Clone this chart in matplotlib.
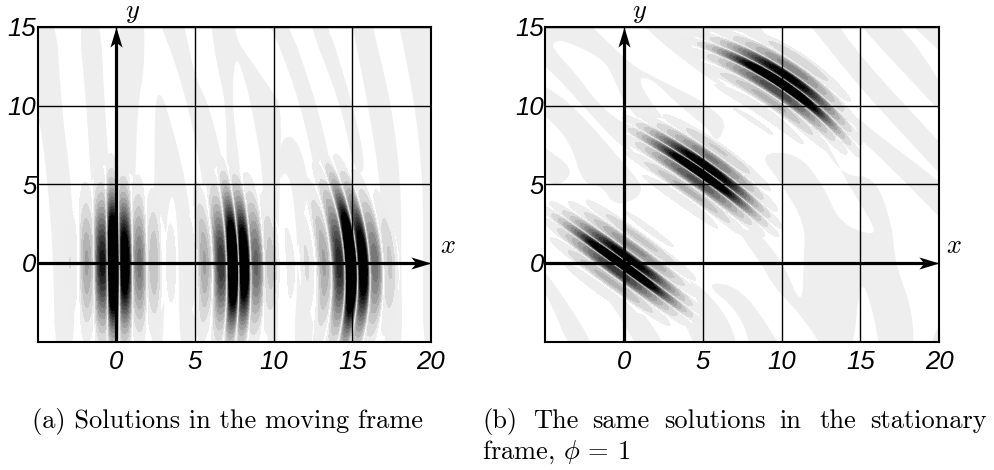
from __future__ import annotations

import matplotlib
matplotlib.use("Agg")
import matplotlib.pyplot as plt
import numpy as np
from matplotlib.colors import ListedColormap

WIDTH, HEIGHT = 995, 470
X_TICKS = [0, 5, 10, 15, 20]
Y_TICKS = [0, 5, 10, 15]
STRIPE_GRAY = "#eeeeee"

# bright lobes of each beam, read across the x axis of the moving frame
beam1_x = [-2.93, -1.9, -0.97, -0.2, 0.57, 1.48, 2.4, 3.48]
beam1_peak = [0.13, 0.38, 0.9, 2.0, 1.3, 0.55, 0.28, 0.08]
beam2_x = [4.6, 5.6, 6.6, 7.4, 8.14, 8.94, 9.83]
beam2_peak = [0.12, 0.38, 0.8, 1.7, 1.4, 0.6, 0.25]
beam3_x = [11.06, 12.1, 13.18, 14.1, 14.9, 15.7, 16.5, 17.4]
beam3_peak = [0.07, 0.14, 0.38, 0.85, 2.0, 1.3, 0.55, 0.22]
beam_centre = [0.0, 7.4, 14.9]
beam_bend = [0.002, 0.014, 0.028]
beam_tilt = [0.01, 0.03, 0.06]
beam_reach = [3.6, 3.6, 3.8]

# same beams in the stationary frame
right_centre_x = [0.0, 4.9, 10.0]
right_centre_y = [0.0, 5.7, 11.4]
right_along = (-0.804, 0.595)
right_across = (0.595, 0.804)
along_scale = 1.05
across_scale = 1.3
right_gain = 0.85

# background bands, (x, y) outlines
left_a = [(-6, 16), (-3.85, 16), (-3.5, 10), (-2.86, 5), (-2.65, 0), (-2.7, -6), (-3.9, -6), (-4.0, 0), (-4.34, 5), (-5, 10), (-6, 12)]
left_b = [(-2.45, 16), (-1.05, 16), (-0.74, 10), (-0.4, 5), (-0.5, 3.5), (-1.4, 3.5), (-1.6, 5), (-1.9, 10)]
left_c = [(0.0, 16), (1.75, 16), (1.8, 12.5), (1.35, 10), (1.2, 5), (1.0, 3.5), (0.2, 3.5), (0, 5)]
left_d = [(2.71, 10.9), (3.18, 10), (4.5, 5), (5.0, 0), (5.0, -6), (4.0, -6), (3.96, 2), (3.54, 4.9), (3.1, 2), (3.0, -6), (2.16, -6), (2.16, 2), (2.44, 5), (2.44, 10)]
left_e = [(2.6, 16), (4.1, 16), (4.34, 15), (5, 11.8), (5.9, 10), (7.0, 5.5), (6.5, 3.5), (5.7, 3.5), (5.5, 5), (4.87, 8.7), (3.8, 12.6), (2.86, 15)]
left_f = [(5.93, 16), (7.5, 16), (7.6, 14.2), (8.6, 12.8), (9.9, 10.9), (10.5, 10), (10.4, 5), (10.25, 0), (10.3, -6), (9.5, -6), (9.45, 5), (8.6, 10), (7.9, 12.6), (7.5, 13), (7.35, 10), (8.0, 5), (7.8, 3.5), (7.0, 5.5), (7.0, 10), (6.3, 13)]
left_g = [(9.2, 16), (10.7, 16), (12.8, 10), (13.9, 5), (14, 3.5), (13, 3.5), (12.8, 5), (11.74, 10), (10.1, 14.5)]
left_g2 = [(10.4, 8), (11.5, 8), (12.3, 5), (12.6, 0), (12.5, -6), (11.2, -6), (11.6, 0), (11.2, 5), (10.65, 5.9), (10.4, 5)]
left_h = [(11.95, 16), (13.2, 16), (15.05, 10), (15.9, 6), (15.2, 5.5), (14.3, 10)]
left_i = [(14.8, 16), (16.1, 16), (16.3, 15), (17.5, 10), (18.1, 5), (18.1, 0), (18.2, -6), (17, -6), (17, 0), (16.8, 5), (16, 10), (15.03, 15)]
left_j = [(17.8, 16), (19.7, 16), (19.9, 15), (21, 14), (21, -6), (19.5, -6), (19.5, 0), (19.5, 5), (19, 10), (18, 15)]
left_bands = [left_a, left_b, left_c, left_d, left_e, left_f, left_g, left_g2, left_h, left_i, left_j]

right_a = [(-6, 16), (-3, 16), (-2, 15), (-0.06, 13.1), (0.8, 12.4), (2.5, 11.5), (5, 10.3), (7, 8.5), (3, 5.5), (-0.06, 7.2), (-2.6, 10), (-5, 12.6), (-6, 13)]
right_b = [(0.4, 16), (9, 16), (9, 12), (6.5, 11), (5, 12), (3, 13.5), (1.3, 15)]
right_c = [(-6, 12), (-5, 11.2), (-3.2, 10), (-0.06, 6.4), (1.5, 4.5), (-0.5, 3.5), (-1.5, 5), (-2.6, 5), (-3.4, 7.7), (-5, 9.4), (-6, 10.2)]
right_d = [(-6, 8.2), (-5, 7.3), (-3.2, 6), (-3.9, 5), (-4.7, 5), (-6, 6.4)]
right_e = [(-6, 0.2), (-5, -0.45), (-2, -5), (-2, -6), (-3.2, -6), (-5, -1.7), (-6, -0.8)]
right_f = [(-2, -1), (-1, -1.2), (1.6, -3.5), (2.9, -6), (1.2, -6), (-0.5, -3)]
right_g = [(3, -0.6), (5, -1.5), (6.8, -3.8), (7.3, -6), (4.8, -6), (3.5, -3)]
right_g2 = [(5, -1.2), (7.4, -1.5), (9.8, -5), (10, -6), (8.2, -6), (7.4, -3.2)]
right_h = [(11, 16), (13, 16), (15, 13.1), (20, 7.7), (21, 6.6), (21, 4.6), (20, 5.7), (15, 11.1), (11.9, 15)]
right_i = [(14.5, 16), (17, 16), (21, 10.2), (21, 8.6), (20, 9.7), (15.03, 15)]
right_j = [(17.4, 16), (21, 16), (21, 12.5), (20, 13.5), (18.4, 15)]
right_k = [(12, 11.7), (15, 9), (20, 5.2), (21, 4.2), (21, 2), (20, 2.9), (18, 5), (15, 7.9), (12, 10.5)]
right_l = [(12.5, 7.5), (14, 5.5), (15.9, 5.5), (17, 2.5), (17.2, 0), (18.3, -3), (18.4, -6), (16.3, -6), (15.8, -3), (15, -0.8), (14.5, -6), (13, -6), (11.3, -3.4), (9.5, -1.5), (8.7, 0), (6.5, 3), (8, 2.5), (10, 0.2), (11.3, -2.9), (11.4, 0), (11.5, 2.5), (10, 5), (8.5, 7), (11, 7), (12.6, 5), (13.7, 2.5), (15.9, 1.7), (15.8, 2.5), (14.2, 5), (13, 7.5)]
right_p = [(19.2, -6), (21, -6), (21, -3), (20, -3.7)]
right_bands = [right_a, right_b, right_c, right_d, right_e, right_f, right_g, right_g2, right_h, right_i, right_j, right_k, right_l, right_p]

# white tongues cut back out of the bands
right_w1 = [(-4.5, 14), (-3.87, 14.2), (-1.33, 13), (-0.6, 11.7), (-0.06, 10.25), (1.5, 8.5), (0, 8.8), (-1.54, 10), (-3, 11.96), (-4.5, 13.6)]
right_w2 = [(0.8, 11.8), (1.8, 11.7), (3.5, 10), (6, 8), (5, 7), (3, 8.6), (1.84, 10)]
right_whites = [right_w1, right_w2]


def rounded(outline, passes=2):
    # corner cutting, keeps the band edges from looking faceted
    points = np.array(outline, dtype=float)
    for _ in range(passes):
        following = np.roll(points, -1, axis=0)
        points = np.column_stack([0.75 * points + 0.25 * following, 0.25 * points + 0.75 * following]).reshape(-1, 2)
    return points


def beam_field(x, y, use_right_frame):
    total = np.zeros_like(x)
    backing = np.zeros_like(x)
    for index, (lobes, peaks) in enumerate(
        zip([beam1_x, beam2_x, beam3_x], [beam1_peak, beam2_peak, beam3_peak])
    ):
        if use_right_frame:
            dx = x - right_centre_x[index]
            dy = y - right_centre_y[index]
            across = beam_centre[index] + across_scale * (dx * right_across[0] + dy * right_across[1])
            along = along_scale * (dx * right_along[0] + dy * right_along[1])
        else:
            across, along = x, y
        shift = beam_bend[index] * along**2 + beam_tilt[index] * along
        fade = np.exp(-((along / beam_reach[index]) ** 2))
        lobes_sum = np.zeros_like(x)
        for lobe_x, peak in zip(lobes, peaks):
            lobes_sum += peak * np.exp(-(((across + shift - lobe_x) / 0.4) ** 2))
            backing += peak * fade * np.exp(-(((across + shift - lobe_x) / 0.7) ** 2))
        # thin white node halfway between neighbouring lobes
        for first, second in zip(lobes[:-1], lobes[1:]):
            lobes_sum *= 1 - 0.92 * np.exp(-(((across + shift - (first + second) / 2) / 0.1) ** 2))
        total += lobes_sum * fade
    gain = right_gain if use_right_frame else 1.0
    return total * gain, backing * gain


def draw_panel(ax, bands, whites, label_x, use_right_frame):
    for band in bands:
        ax.fill(*rounded(band).T, color=STRIPE_GRAY, lw=0, zorder=1)
    for white in whites:
        ax.fill(*rounded(white).T, color="white", lw=0, zorder=1.5)

    grid_x, grid_y = np.meshgrid(np.linspace(-5, 20, 900), np.linspace(-5, 15, 720))
    field, backing = beam_field(grid_x, grid_y, use_right_frame)
    ax.contourf(grid_x, grid_y, backing, levels=[0.12, 1e3], colors=["white"], zorder=1.8)
    levels = np.linspace(0.05, 1.0, 13)
    shades = np.linspace(0.93, 0.0, 13)
    cmap = ListedColormap([str(s) for s in shades[:-1]])
    cmap.set_over("black")
    ax.contourf(grid_x, grid_y, field, levels=levels, cmap=cmap, extend="max", zorder=2)

    ax.set_xlim(-5, 20)
    ax.set_ylim(-5, 15)
    ax.set_xticks(X_TICKS)
    ax.set_yticks(Y_TICKS)
    ax.tick_params(length=0, labelsize=18.5)
    ax.tick_params(axis="x", pad=6)
    ax.tick_params(axis="y", pad=1)
    for tick in ax.get_xticklabels() + ax.get_yticklabels():
        tick.set_fontstyle("italic")
        tick.set_family("Liberation Sans")
    ax.grid(color="black", lw=1)
    ax.set_axisbelow(False)
    for spine in ax.spines.values():
        spine.set_linewidth(1.5)

    head = [(0, 0), (-1, 0.3), (-0.75, 0), (-1, -0.3)]
    ax.plot([-5, 19.4], [0, 0], color="black", lw=2.3, zorder=5, solid_capstyle="butt")
    ax.plot([0, 0], [-5, 14.4], color="black", lw=2.3, zorder=5, solid_capstyle="butt")
    ax.plot([20], [0], marker=head, ms=29, color="black", mew=0, clip_on=False, zorder=6)
    up_head = [(-py, px) for px, py in head]
    ax.plot([0], [15], marker=up_head, ms=29, color="black", mew=0, clip_on=False, zorder=6)
    ax.text(label_x, 1.08, "$x$", fontsize=19, ha="center", va="center", clip_on=False)
    ax.text(1.0, 15.95, "$y$", fontsize=19, ha="center", va="center", clip_on=False)


def main() -> None:
    plt.rcParams["mathtext.fontset"] = "cm"
    fig = plt.figure(figsize=(WIDTH / 100, HEIGHT / 100), dpi=100)

    ax_left = fig.add_axes([37.7 / WIDTH, 1 - 341.5 / HEIGHT, 393.3 / WIDTH, 314.5 / HEIGHT])
    draw_panel(ax_left, left_bands, [], 21.05, False)

    ax_right = fig.add_axes([545.2 / WIDTH, 1 - 341.5 / HEIGHT, 394 / WIDTH, 314.5 / HEIGHT])
    draw_panel(ax_right, right_bands, right_whites, 20.95, True)

    caption = dict(family="cmr10", fontsize=19, va="baseline")
    fig.text(32 / WIDTH, 1 - 428 / HEIGHT, "(a) Solutions in the moving frame", **caption)
    words = ["(b)", "The", "same", "solutions", "in", "the", "stationary"]
    word_x = [482, 533, 592, 664, 779, 819, 870]
    for word, x in zip(words, word_x):
        fig.text(x / WIDTH, 1 - 428 / HEIGHT, word, **caption)
    fig.text(482 / WIDTH, 1 - 459 / HEIGHT, r"frame, $\phi$ = 1", **caption)

    fig.savefig("out.png", dpi=100)
    plt.close(fig)


if __name__ == "__main__":
    main()
